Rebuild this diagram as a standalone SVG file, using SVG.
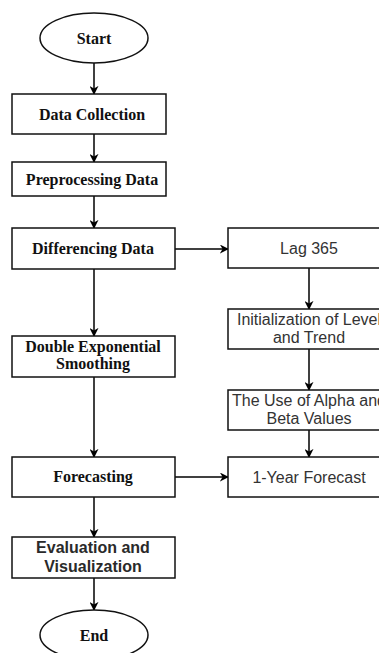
<svg xmlns="http://www.w3.org/2000/svg" width="379" height="653" viewBox="0 0 379 653">
<style>
.box{fill:#fff;stroke:#111;stroke-width:1.5}
.serif{font-family:"Liberation Serif","Times New Roman",serif;font-weight:bold;font-size:16px;fill:#111;text-anchor:middle}
.sans{font-family:"Liberation Sans",Arial,sans-serif;font-size:16px;fill:#333;text-anchor:middle}
.sansb{font-family:"Liberation Sans",Arial,sans-serif;font-weight:bold;font-size:16px;fill:#2a2a2a;text-anchor:middle}
.edge{stroke:#000;stroke-width:1.5;fill:none;marker-end:url(#arr)}
</style>
<defs>
<marker id="arr" viewBox="0 0 10 10" refX="9" refY="5" markerWidth="9" markerHeight="9" markerUnits="userSpaceOnUse" orient="auto">
<path d="M0,0 L10,5 L0,10 L3,5 Z" fill="#000"/>
</marker>
</defs>
<rect width="379" height="653" fill="#fff"/>
<g id="connectors">
<line class="edge" x1="94" y1="63" x2="94" y2="94"/>
<line class="edge" x1="94" y1="134" x2="94" y2="162"/>
<line class="edge" x1="94" y1="196" x2="94" y2="228"/>
<line class="edge" x1="94" y1="269" x2="94" y2="336"/>
<line class="edge" x1="94" y1="377" x2="94" y2="457"/>
<line class="edge" x1="94" y1="497" x2="94" y2="537"/>
<line class="edge" x1="94" y1="578" x2="94" y2="610"/>
<line class="edge" x1="175" y1="249" x2="228" y2="249"/>
<line class="edge" x1="175" y1="477" x2="228" y2="477"/>
<line class="edge" x1="309" y1="268" x2="309" y2="309"/>
<line class="edge" x1="309" y1="349" x2="309" y2="390"/>
<line class="edge" x1="309" y1="430" x2="309" y2="457"/>
</g>
<g id="start">
<ellipse class="box" cx="94" cy="38" rx="54" ry="25"/>
<text class="serif" x="94" y="43.5">Start</text>
</g>
<g id="data-collection">
<rect class="box" x="12" y="94" width="154" height="40"/>
<text class="serif" x="92" y="119.5">Data Collection</text>
</g>
<g id="preprocessing">
<rect class="box" x="12" y="162" width="154" height="34"/>
<text class="serif" x="92" y="184.5">Preprocessing Data</text>
</g>
<g id="differencing">
<rect class="box" x="12" y="228" width="163" height="41"/>
<text class="serif" x="93" y="254">Differencing Data</text>
</g>
<g id="des">
<rect class="box" x="12" y="336" width="163" height="41"/>
<text class="serif" x="93" y="352">Double Exponential</text>
<text class="serif" x="93" y="369">Smoothing</text>
</g>
<g id="forecasting">
<rect class="box" x="12" y="457" width="163" height="40"/>
<text class="serif" x="93" y="482">Forecasting</text>
</g>
<g id="evaluation">
<rect class="box" x="12" y="537" width="163" height="41"/>
<text class="sansb" x="93" y="553">Evaluation and</text>
<text class="sansb" x="93" y="572">Visualization</text>
</g>
<g id="end">
<ellipse class="box" cx="94" cy="635" rx="54" ry="25"/>
<text class="serif" x="94" y="640.5">End</text>
</g>
<g id="lag">
<rect class="box" x="228" y="228" width="162" height="40"/>
<text class="sans" x="309" y="254">Lag 365</text>
</g>
<g id="init">
<rect class="box" x="228" y="309" width="162" height="40"/>
<text class="sans" x="309" y="325">Initialization of Level</text>
<text class="sans" x="309" y="343">and Trend</text>
</g>
<g id="alpha">
<rect class="box" x="228" y="390" width="162" height="40"/>
<text class="sans" x="309" y="406">The Use of Alpha and</text>
<text class="sans" x="309" y="424">Beta Values</text>
</g>
<g id="year">
<rect class="box" x="228" y="457" width="162" height="40"/>
<text class="sans" x="309" y="482.5">1-Year Forecast</text>
</g>
</svg>
